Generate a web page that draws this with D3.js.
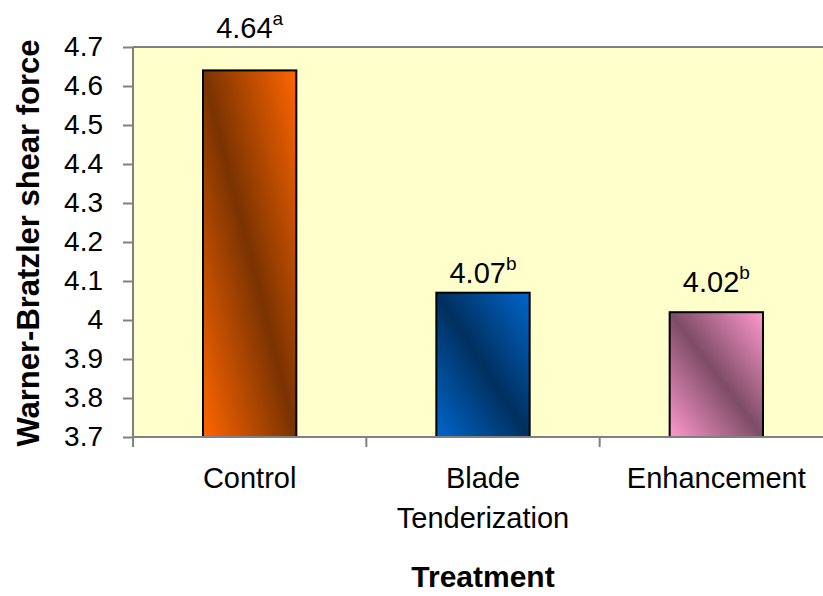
<!DOCTYPE html>
<html>
<head>
<meta charset="utf-8">
<script src="https://cdn.jsdelivr.net/npm/d3@7"></script>
<style>
  body { margin: 0; background: #fff; }
  svg { display: block; font-family: "Liberation Sans", Arial, sans-serif; }
</style>
</head>
<body>
<svg id="chart" width="823" height="596"></svg>
<script>
// data
const categories = ["Control", "Blade Tenderization", "Enhancement"];
const categoryLines = [["Control"], ["Blade", "Tenderization"], ["Enhancement"]];
const values = [4.64, 4.07, 4.02];
const letters = ["a", "b", "b"];
const yTicks = [3.7, 3.8, 3.9, 4.0, 4.1, 4.2, 4.3, 4.4, 4.5, 4.6, 4.7];

// bar shading: light, dark
const barColors = [
    ["#ff6600", "#7a3300"],
    ["#0066cc", "#00305f"],
    ["#ff99cc", "#7d4c66"]
];
const labelLift = [32, 10, 20]; // label baselines sit this far above bar tops

const margin = { top: 47, left: 133 };
const width = 700;
const height = 390;

const svg = d3.select("#chart");
const defs = svg.append("defs");
const g = svg.append("g").attr("transform", `translate(${margin.left},${margin.top})`);

const x = d3.scaleBand().domain(categories).range([0, width]).paddingInner(0.6).paddingOuter(0.3);
const y = d3.scaleLinear().domain([3.7, 4.7]).range([height, 0]);

// plot background
g.append("rect").attr("width", width).attr("height", height).attr("fill", "#ffffcc");
g.append("line").attr("x1", 0).attr("x2", width).attr("y1", 0).attr("y2", 0)
    .attr("stroke", "#808080").attr("stroke-width", 2);

// gradients
barColors.forEach((c, i) => {
    const grad = defs.append("linearGradient").attr("id", "grad" + i)
        .attr("x1", 0).attr("y1", 1).attr("x2", 1).attr("y2", 0);
    grad.append("stop").attr("offset", "0%").attr("stop-color", c[0]);
    grad.append("stop").attr("offset", "50%").attr("stop-color", c[1]);
    grad.append("stop").attr("offset", "100%").attr("stop-color", c[0]);
});

// bars
g.selectAll("rect.bar").data(values).enter().append("rect")
    .attr("class", "bar")
    .attr("x", (d, i) => x(categories[i]))
    .attr("width", x.bandwidth())
    .attr("y", d => y(d))
    .attr("height", d => height - y(d))
    .attr("fill", (d, i) => `url(#grad${i})`)
    .attr("stroke", "#000")
    .attr("stroke-width", 2);

// value labels
const labels = g.selectAll("text.val").data(values).enter().append("text")
    .attr("class", "val")
    .attr("x", (d, i) => x(categories[i]) + x.bandwidth() / 2)
    .attr("y", (d, i) => y(d) - labelLift[i])
    .attr("text-anchor", "middle")
    .attr("font-size", 29)
    .attr("fill", "#000");
labels.append("tspan").text(d => d.toFixed(2));
labels.append("tspan").attr("font-size", 19).attr("dy", -13).text((d, i) => letters[i]);

// y axis
const yAxis = g.append("g").call(d3.axisLeft(y).tickValues(yTicks).tickSize(10).tickPadding(20)
    .tickFormat(d => String(+d.toFixed(1))));
yAxis.select(".domain").attr("stroke", "#808080").attr("stroke-width", 2).attr("d", `M0,0V${height}`);
yAxis.selectAll(".tick line").attr("stroke", "#808080").attr("stroke-width", 2);
yAxis.selectAll(".tick text").attr("font-size", 28).attr("fill", "#000")
    .attr("font-family", "Liberation Sans, Arial, sans-serif");

// x axis with ticks at category boundaries
const xAxis = g.append("g").attr("transform", `translate(0,${height})`);
xAxis.append("line").attr("x1", 0).attr("x2", width).attr("stroke", "#808080").attr("stroke-width", 2);
const bounds = d3.range(categories.length + 1).map(i => i * x.step());
xAxis.selectAll("line.tk").data(bounds).enter().append("line")
    .attr("class", "tk")
    .attr("x1", d => d).attr("x2", d => d)
    .attr("y1", 0).attr("y2", 10)
    .attr("stroke", "#808080").attr("stroke-width", 2);

const catText = xAxis.selectAll("text.cat").data(categoryLines).enter().append("text")
    .attr("class", "cat")
    .attr("x", (d, i) => x(categories[i]) + x.bandwidth() / 2)
    .attr("y", 51)
    .attr("text-anchor", "middle")
    .attr("font-size", 29)
    .attr("fill", "#000");
catText.selectAll("tspan").data(d => d).enter().append("tspan")
    .attr("x", function() { return d3.select(this.parentNode).attr("x"); })
    .attr("dy", (d, i) => i === 0 ? 0 : 40)
    .text(d => d);

// axis titles
svg.append("text")
    .attr("x", margin.left + x(categories[1]) + x.bandwidth() / 2)
    .attr("y", 587)
    .attr("text-anchor", "middle")
    .attr("font-size", 30)
    .attr("font-weight", "bold")
    .text("Treatment");

svg.append("text")
    .attr("transform", "translate(39,243) rotate(-90)")
    .attr("text-anchor", "middle")
    .attr("font-size", 31)
    .attr("font-weight", "bold")
    .text("Warner-Bratzler shear force");
</script>
</body>
</html>
